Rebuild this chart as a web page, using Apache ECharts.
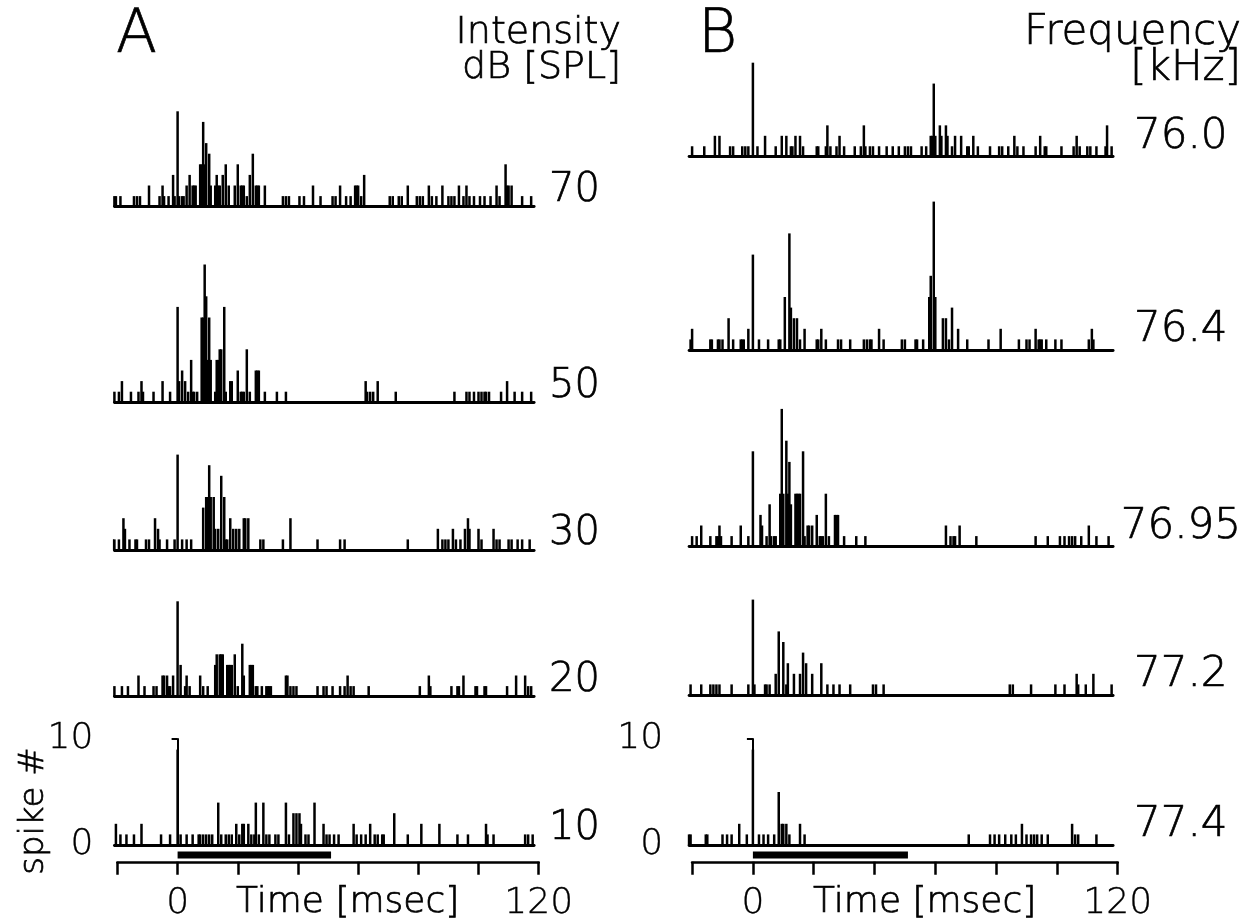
<!DOCTYPE html>
<html>
<head>
<meta charset="utf-8">
<script src="https://cdn.jsdelivr.net/npm/echarts@6/dist/echarts.min.js"></script>
<style>
  html, body { margin: 0; padding: 0; background: #fff; }
  #chart { width: 1246px; height: 922px; }
</style>
</head>
<body>
<div id="chart"></div>
<script>
// PSTH data: [time in ms, spike count] of the non-empty 0.5 ms bins
const intensity70 = [[-21,1],[-20.5,1],[-19,1],[-14.5,1],[-13.5,1],[-12.5,1],[-9.5,2],[-6,1],[-5,2],[-4.5,1],[-3,1],[-1.5,3],[-1,1],[0,9],[0.5,1],[1.5,1],[2,1],[3,2],[4,3],[5,2],[5.5,2],[6,2],[7.5,4],[8,4],[8.5,8],[9,4],[9.5,6],[10.5,5],[11,2],[12.5,2],[13,3],[13.5,2],[14,2],[15,3],[16,4],[17,2],[19,2],[20,4],[21,2],[21.5,2],[22,2],[23,1],[24,3],[25,5],[26,2],[26.5,2],[27,2],[29,2],[35,1],[36,1],[37,1],[40.5,1],[42,1],[45,2],[47.5,1],[51.5,1],[52.5,1],[54,2],[56,1],[57.5,1],[59,2],[59.5,2],[60,2],[61,1],[62,3],[70.5,1],[71.5,1],[73.5,1],[74.5,1],[76.5,2],[79.5,1],[80.5,1],[81.5,1],[83.5,2],[84.5,1],[86,1],[88,2],[90,1],[91,1],[92,1],[93.5,2],[95,1],[96,2],[97,1],[98.5,1],[100.5,1],[102,1],[104,1],[106,2],[107,1],[109,4],[109.5,2],[110,2],[111,2],[114.5,1],[117.5,1]];
const intensity50 = [[-21,1],[-19.5,1],[-18.5,2],[-15.5,1],[-13,1],[-12,2],[-11.5,1],[-8,1],[-5,2],[-2.5,1],[0,9],[0.5,2],[1.5,3],[2.5,2],[3.5,1],[4.5,4],[5,1],[5.5,1],[6.5,1],[8,8],[8.5,8],[9,13],[9.5,10],[10,4],[10.5,8],[11,4],[12.5,1],[13,4],[13.5,4],[14,5],[14.5,5],[15.5,9],[16,1],[17.5,2],[18,2],[20,3],[21,1],[21.5,1],[22,1],[23,5],[24,1],[26,3],[26.5,3],[27,3],[29,1],[33,1],[36,1],[62.5,2],[63,1],[64,1],[65,1],[66.5,2],[72.5,1],[92,1],[96,1],[97,1],[98.5,1],[100,1],[101,1],[102,1],[102.5,1],[103.5,1],[107.5,1],[109.5,2],[112,1],[114.5,1],[117.5,1]];
const intensity30 = [[-21.5,1],[-21,1],[-19.5,1],[-18,3],[-17.5,2],[-16,1],[-14,1],[-13.5,1],[-10.5,1],[-9.5,1],[-7.5,3],[-6.5,2],[-6,1],[-3.5,1],[-1,1],[0,9],[1.5,1],[3,1],[4.5,1],[8.5,4],[9.5,5],[10,5],[10.5,8],[11,5],[12,5],[12.5,2],[13.5,2],[14.5,7],[15.5,5],[16,1],[16.5,1],[17.5,3],[18.5,2],[19.5,2],[20.5,2],[22,3],[22.5,3],[23.5,3],[27.5,1],[28.5,1],[35,1],[37.5,3],[46.5,1],[54,1],[55.5,1],[76.5,1],[86.5,2],[88,1],[89,1],[90,1],[91.5,2],[92.5,1],[94,1],[95.5,2],[96.5,3],[97,2],[100,2],[101,1],[105,2],[106,1],[107,1],[110,1],[111,1],[113,1],[114.5,1],[117,1]];
const intensity20 = [[-21,1],[-18.5,1],[-16.5,1],[-13,2],[-11,1],[-8,1],[-7,1],[-5,2],[-4.5,2],[-3.5,2],[-3,1],[-2.5,1],[-1.5,2],[0,9],[1,3],[2.5,1],[3,2],[4,1],[7.5,2],[8.5,1],[10,1],[12.5,3],[13,4],[14,4],[14.5,4],[15,4],[16.5,3],[17,3],[17.5,3],[18,3],[19,4],[20,1],[21.5,5],[22,2],[24,3],[24.5,3],[25,3],[26,1],[26.5,1],[28,1],[29.5,1],[30,1],[30.5,1],[31,1],[36,2],[36.5,2],[37.5,1],[38.5,1],[39.5,1],[46.5,1],[48.5,1],[49.5,1],[51.5,1],[54,1],[55.5,1],[56.5,2],[57.5,1],[58.5,1],[63.5,1],[80.5,1],[83.5,2],[84,1],[91,1],[93,1],[93.5,1],[95,2],[99,1],[99.5,1],[102,1],[102.5,1],[109.5,1],[112.5,2],[115.5,2],[116.5,1],[117.5,1]];
const intensity10 = [[-20.5,2],[-19,1],[-17,1],[-14.5,1],[-12,2],[-5.5,1],[-2.5,1],[0,9],[1,1],[3,1],[5,1],[7,1],[7.5,1],[8.5,1],[9.5,1],[10.5,1],[11.5,1],[13.5,4],[14.5,1],[16,1],[17,1],[18,1],[19.5,2],[20.5,1],[21.5,2],[22,2],[23.5,2],[24.5,1],[25.5,1],[26,4],[27,1],[28.5,4],[29.5,1],[30.5,1],[32.5,1],[33.5,1],[36,4],[37,1],[38.5,3],[39.5,3],[40.5,3],[41,2],[42.5,1],[43.5,1],[45.5,4],[48.5,2],[49.5,1],[50.5,1],[52,1],[53.5,1],[58.5,2],[59.5,1],[61,1],[62.5,1],[64,2],[65.5,1],[66.5,1],[68,1],[68.5,1],[72,3],[76.5,1],[81,2],[87,2],[93,1],[96.5,1],[102.5,2],[103,1],[105,1],[115.5,1],[116.5,1],[118,1]];

const freq760 = [[-20,1],[-16,1],[-12.5,2],[-11,2],[-7.5,1],[-6.5,1],[-3.5,1],[-2.5,1],[-1.5,1],[0,9],[1.5,1],[4,2],[7.5,1],[9.5,2],[11,2],[12.5,1],[13,1],[14,2],[15.5,2],[16.5,1],[21,1],[21.5,1],[24,1],[24.5,3],[25.5,1],[27.5,1],[28.5,2],[30,1],[33.5,1],[35.5,1],[36.5,3],[37,1],[38.5,1],[39.5,1],[41.5,1],[44,1],[46,1],[48,1],[50,1],[51,1],[52,1],[55.5,1],[57,1],[58.5,2],[59,2],[59.5,7],[60,2],[61.5,3],[62,2],[63.5,3],[64,2],[65.5,1],[66.5,2],[68.5,2],[70.5,1],[71,1],[72.5,2],[74,1],[78,1],[81,1],[82,1],[84,1],[86,2],[87,1],[89,1],[93,1],[94.5,2],[96,1],[96.5,1],[101.5,1],[105.5,1],[106.5,2],[107.5,1],[110,1],[111,1],[113,1],[116,1],[116.5,3],[118,1]];
const freq764 = [[-20.5,1],[-20,2],[-14,1],[-13.5,1],[-11.5,1],[-11,1],[-10,1],[-8,3],[-6.5,1],[-4,1],[-3.5,1],[-3,1],[-1.5,2],[0,9],[2,1],[5,1],[8.5,1],[9,1],[10.5,5],[12,11],[12.5,4],[13.5,3],[14.5,3],[15.5,1],[17,2],[21,1],[21.5,1],[22.5,2],[24,1],[28,1],[29,1],[32,1],[36.5,1],[37.5,1],[38.5,1],[39,1],[41.5,2],[43,1],[49,1],[50,1],[53.5,1],[54,1],[56,1],[58,5],[58.5,7],[59.5,14],[60,5],[62.5,3],[63.5,3],[64.5,1],[65.5,4],[67.5,2],[70.5,1],[77.5,1],[81.5,2],[87.5,1],[90,1],[91,1],[93,2],[94,1],[94.5,1],[95,1],[96.5,1],[99.5,1],[101.5,1],[110.5,1],[111.5,2],[112,1]];
const freq7695 = [[-20,1],[-18.5,1],[-17,2],[-14,1],[-12,1],[-11.5,1],[-11,2],[-10.5,1],[-7,1],[-4,2],[-1.5,1],[0,9],[2.5,3],[3,2],[4.5,1],[5.5,4],[6,1],[7,1],[7.5,1],[9,5],[9.5,13],[10,5],[11,10],[11.5,5],[12,8],[12.5,4],[14,5],[14.5,5],[15,5],[15.5,5],[16.5,9],[17,1],[18,2],[18.5,2],[19.5,2],[21,3],[22,1],[22.5,1],[23,1],[24,5],[25,1],[27,3],[27.5,3],[28,3],[30,1],[34,1],[37,1],[63.5,2],[65,1],[66,1],[66.5,1],[68,2],[73.5,1],[93,1],[97,1],[101,1],[102.5,1],[104,1],[105,1],[106,1],[108,1],[110.5,2],[113,1],[117,1]];
const freq772 = [[-20.5,1],[-17,1],[-14,1],[-13,1],[-12,1],[-11,1],[-7,1],[-1.5,1],[0,9],[0.5,1],[4,1],[4.5,1],[5.5,1],[7.5,2],[8.5,6],[10,5],[11,1],[11.5,3],[13.5,2],[15.5,2],[16.5,4],[17.5,3],[19.5,2],[22.5,3],[24.5,1],[26.5,1],[28.5,1],[32,1],[39.5,1],[40.5,1],[43,1],[84.5,1],[85.5,1],[91.5,1],[99.5,1],[102.5,1],[106.5,2],[107,1],[109.5,1],[112,2],[118,1]];
const freq774 = [[-21,1],[-20.5,1],[-15.5,1],[-15,1],[-10,1],[-8.5,1],[-7,1],[-4.5,2],[-2,1],[0,9],[2,1],[3.5,1],[5,1],[7,1],[8.5,5],[9.5,2],[10,2],[11,2],[12,1],[15.5,2],[17,1],[71,1],[78,1],[79.5,1],[81,1],[83,1],[85,1],[86.5,1],[88.5,2],[90,1],[91.5,1],[92.5,1],[93.5,1],[95,1],[97,1],[105,2],[106,1],[107,1],[113,1]];

const intensityLabels = ['70', '50', '30', '20', '10'];
const frequencyLabels = ['76.0', '76.4', '76.95', '77.2', '77.4'];
const stimulus = [0, 51];          // tone on / off, ms
const spikeTicks = [0, 10];
const timeTicks = [0, 120];
const timeRange = [-20, 120];
const histRange = [-21, 118.5];
const timeTitle = 'Time [msec]';
const timeTitleAt = 56.5;          // ms under which the axis title is centred

const FONT = '"DejaVu Sans", sans-serif';
const U = 10.6; // px per spike
const AXIS_Y = 865;                // time axis line
const TEXT_BORDER = 0.7;           // thickens the light font a little

const measureCtx = document.createElement('canvas').getContext('2d');
function textWidth(text, size) {
  measureCtx.font = '200 ' + size + 'px ' + FONT;
  return measureCtx.measureText(text).width;
}

const grid = [], xAxis = [], yAxis = [], series = [], graphic = [];

function textEl(text, x, y, size, align, rotation) {
  return {
    type: 'text', x: x, y: y, rotation: rotation || 0, silent: true,
    style: { text: text, font: '200 ' + size + 'px ' + FONT, fill: '#000',
             stroke: '#000', lineWidth: TEXT_BORDER,
             textAlign: align || 'left', textVerticalAlign: 'middle' }
  };
}

function labelStyle(size) {
  return { color: '#000', fontSize: size, fontFamily: FONT, fontWeight: 200,
           textBorderColor: '#000', textBorderWidth: TEXT_BORDER / 2 };
}

function addPanel(rows, labels, base, x0, k, axisOffset, label) {
  rows.forEach(function (data, r) {
    const i = grid.length;
    const last = r === rows.length - 1;
    const ymax = last ? spikeTicks[1] : 15;
    grid.push({ left: x0 + k * histRange[0], width: k * (histRange[1] - histRange[0]),
                top: base[r] - ymax * U, height: ymax * U });
    xAxis.push({ gridIndex: i, type: 'value', min: histRange[0], max: histRange[1],
                 axisLine: { lineStyle: { color: '#000', width: 2.8 } },
                 axisTick: { show: false }, axisLabel: { show: false }, splitLine: { show: false } });
    if (last) {
      yAxis.push({ gridIndex: i, type: 'value', min: spikeTicks[0], max: spikeTicks[1],
                   interval: spikeTicks[1], offset: axisOffset,
                   axisLine: { show: true, lineStyle: { color: '#000', width: 2 } },
                   axisTick: { show: true, length: 6, lineStyle: { color: '#000', width: 2 } },
                   axisLabel: Object.assign({ margin: 14 }, labelStyle(36)),
                   splitLine: { show: false } });
    } else {
      yAxis.push({ gridIndex: i, type: 'value', min: 0, max: ymax, show: false });
    }
    series.push({ type: 'bar', xAxisIndex: i, yAxisIndex: i, data: data,
                  barWidth: 2.5, itemStyle: { color: '#000' }, silent: true });
    // left aligned, but kept inside the page on the right
    const x = Math.min(label.x, label.maxRight - textWidth(labels[r], label.size));
    graphic.push(textEl(labels[r], x, base[r] - label.dy, label.size, 'left'));
  });

  // time axis with the stimulus bar
  const i = grid.length;
  grid.push({ left: x0 + k * timeRange[0], width: k * (timeRange[1] - timeRange[0]), top: AXIS_Y - 10, height: 10 });
  xAxis.push({ gridIndex: i, type: 'value', min: timeRange[0], max: timeRange[1], interval: 20,
               axisLine: { lineStyle: { color: '#000', width: 2.5 } },
               axisTick: { length: 13, lineStyle: { color: '#000', width: 2.5 } },
               axisLabel: Object.assign({ margin: 24,
                            formatter: function (v) { return timeTicks.indexOf(v) >= 0 ? String(v) : ''; } },
                            labelStyle(36)),
               splitLine: { show: false } });
  yAxis.push({ gridIndex: i, type: 'value', min: 0, max: 1, show: false });
  series.push({ type: 'line', xAxisIndex: i, yAxisIndex: i, clip: false, symbol: 'none', silent: true,
                data: stimulus.map(function (t) { return [t, 1]; }),
                lineStyle: { color: '#000', width: 7, cap: 'butt' } });
  graphic.push(textEl(timeTitle, x0 + k * timeTitleAt, AXIS_Y + 38, 36, 'center'));
}

addPanel([intensity70, intensity50, intensity30, intensity20, intensity10], intensityLabels,
         [206.7, 402.3, 550, 696.7, 845], 177.6, 3.009, 7,
         { x: 549, maxRight: 610, dy: 16, size: 40 });
addPanel([freq760, freq764, freq7695, freq772, freq774], frequencyLabels,
         [156.7, 350, 546.7, 695, 845], 752.9, 3.04, 12,
         { x: 1134, maxRight: 1241, dy: 20, size: 42 });

graphic.push(textEl('A', 116, 36, 60, 'left'));
graphic.push(textEl('B', 698, 36, 60, 'left'));
graphic.push(textEl('Intensity', 621, 33, 38, 'right'));
graphic.push(textEl('dB [SPL]', 621, 68, 38, 'right'));
graphic.push(textEl('Frequency', 1241, 33, 42, 'right'));
graphic.push(textEl('[kHz]', 1241, 69, 42, 'right'));
graphic.push(textEl('spike #', 34, 811, 34, 'center', Math.PI / 2));

const chart = echarts.init(document.getElementById('chart'));
chart.setOption({
  animation: false,
  backgroundColor: '#fff',
  grid: grid,
  xAxis: xAxis,
  yAxis: yAxis,
  series: series,
  graphic: graphic
});
</script>
</body>
</html>
